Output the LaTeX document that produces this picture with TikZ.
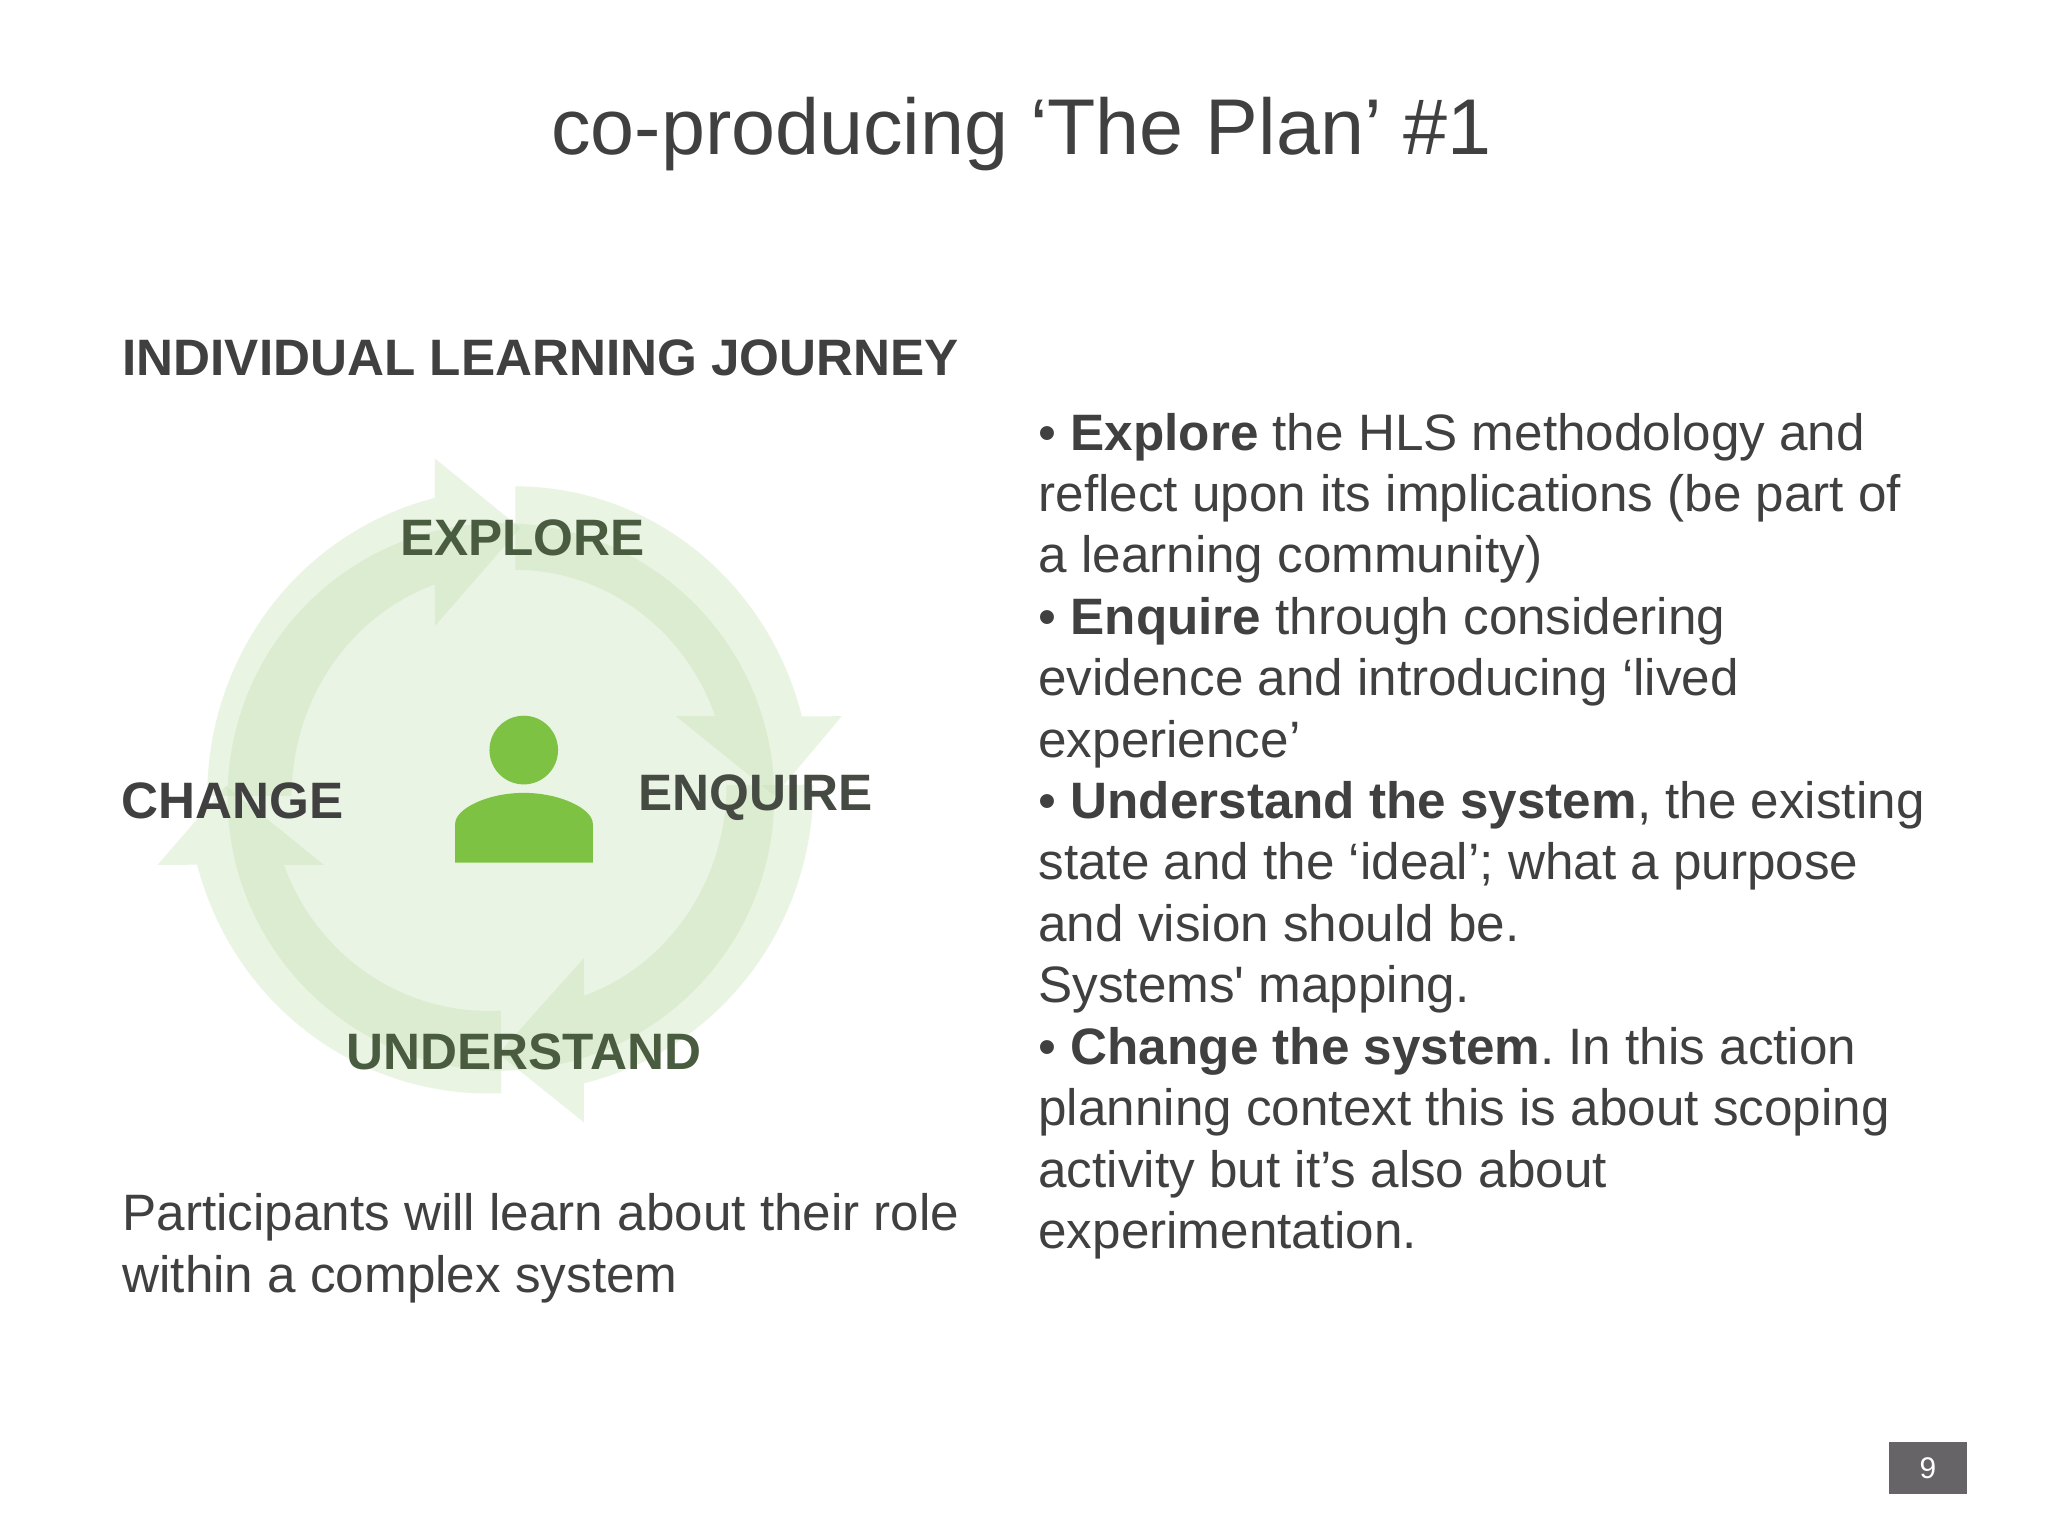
\documentclass[tikz,border=0pt]{standalone}
\usepackage{fontspec}
\setmainfont{Liberation Sans}
\definecolor{txt}{HTML}{404040}
\definecolor{greentxt}{HTML}{4A5C40}
\definecolor{mixtxt}{HTML}{454B42}
\definecolor{discc}{HTML}{EAF4E4}
\definecolor{ringc}{RGB}{192,222,173}
\definecolor{personc}{HTML}{7DC242}
\definecolor{pagebox}{HTML}{666466}
\newcommand{\fsize}[1]{\fontsize{#1}{#1}\selectfont}
\tikzset{
  ringarrow/.style={fill=ringc,fill opacity=0.33,draw=none},
  bodytext/.style={font=\fsize{29.15}\frenchspacing,text=txt,anchor=base west,inner sep=0pt,outer sep=0pt},
  lab/.style={font=\fsize{29.15}\bfseries,anchor=base,inner sep=0pt,outer sep=0pt},
}
\begin{document}
\begin{tikzpicture}[x=0.02cm,y=-0.02cm]
\useasboundingbox (0,0) rectangle (2048,1536);
\fill[white] (0,0) rectangle (2048,1536);
\node[font=\fsize{45},text=txt,anchor=base,inner sep=0pt] (title) at (1021.5,154) {co-producing ‘The Plan’ \#1};
\node[lab,anchor=base west,text=txt] (head) at (122.5,375) {INDIVIDUAL LEARNING JOURNEY};
\begin{scope}[x=0.01988cm,y=-0.01992cm,xshift=0.0192cm,yshift=-0.01cm]
\fill[discc] (503,800) ellipse (275 and 275);
% arrows
\fill[ringarrow] plot[domain=180:103.7,samples=40,variable=\t] ({507.5+300*cos(\t)},{799-308*sin(\t)})
  -- (436.5,460) -- (522.5,530) -- (436.5,628.5)
  -- plot[domain=109.3:180,samples=40,variable=\t] ({507.5+215*cos(\t)},{799-225*sin(\t)}) -- cycle;
\fill[ringarrow] plot[domain=90:14.6,samples=40,variable=\t] ({517.5+298*cos(\t)},{797-309*sin(\t)})
  -- (846,719) -- (778.5,799) -- (679,719)
  -- plot[domain=20.3:90,samples=40,variable=\t] ({517.5+214.5*cos(\t)},{797-225*sin(\t)}) -- cycle;
\fill[ringarrow] plot[domain=0:-76.7,samples=40,variable=\t] ({517.5+300*cos(\t)},{788-308*sin(\t)})
  -- (586.5,1127) -- (500.5,1058) -- (586.5,962)
  -- plot[domain=-71:0,samples=40,variable=\t] ({517.5+212.5*cos(\t)},{788-224*sin(\t)}) -- cycle;
\fill[ringarrow] plot[domain=-87.5:-165.3,samples=40,variable=\t] ({490+302.5*cos(\t)},{790-308*sin(\t)})
  -- (157.5,868.4) -- (226.5,789) -- (325,868.4)
  -- plot[domain=-159.6:-86.6,samples=40,variable=\t] ({490+219*cos(\t)},{790-225*sin(\t)}) -- cycle;
% person
\fill[personc] (526,753) ellipse (34.5 and 34.5);
\fill[personc] (457,866) -- (457,827)
  .. controls (457,812) and (489.5,796) .. (526,796)
  .. controls (562.5,796) and (595.5,812) .. (595.5,827)
  -- (595.5,866) -- cycle;
\end{scope}
% labels
\node[lab,text=greentxt] (explore) at (522.5,555) {EXPLORE};
\node[lab,text=mixtxt] (enquire) at (755.5,810) {ENQUIRE};
\node[lab,text=greentxt] (understand) at (524,1069) {UNDERSTAND};
\node[lab,text=txt] (change) at (232.5,818) {CHANGE};
% paragraphs
\node[bodytext] (p1) at (122.5,1230) {Participants will learn about their role};
\node[bodytext] (p2) at (122.5,1292) {within a complex system};
\node[bodytext] (r1) at (1038.5,450) {• \textbf{Explore} the HLS methodology and};
\node[bodytext] (r2) at (1038.5,511.5) {reflect upon its implications (be part of};
\node[bodytext] (r3) at (1038.5,572.5) {a learning community)};
\node[bodytext] (r4) at (1038.5,634) {• \textbf{Enquire} through considering};
\node[bodytext] (r5) at (1038.5,695.5) {evidence and introducing ‘lived};
\node[bodytext] (r6) at (1038.5,757) {experience’};
\node[bodytext] (r7) at (1038.5,818.5) {• \textbf{Understand the system}, the existing};
\node[bodytext] (r8) at (1038.5,879.5) {state and the ‘ideal’; what a purpose};
\node[bodytext] (r9) at (1038.5,941) {and vision should be.};
\node[bodytext] (r10) at (1038.5,1002.5) {Systems\textquotesingle{} mapping.};
\node[bodytext] (r11) at (1038.5,1064) {• \textbf{Change the system}. In this action};
\node[bodytext] (r12) at (1038.5,1125.5) {planning context this is about scoping};
\node[bodytext] (r13) at (1038.5,1187) {activity but it’s also about};
\node[bodytext] (r14) at (1038.5,1248) {experimentation.};
\node[fill=pagebox,text=white,font=\fsize{17},minimum width=1.56cm,minimum height=1.04cm,inner sep=0pt] (pg) at (1928,1468) {9};
\end{tikzpicture}
\end{document}
